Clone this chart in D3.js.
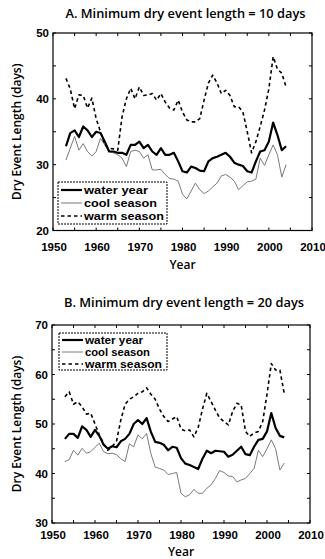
<!DOCTYPE html>
<html><head><meta charset="utf-8">
<script src="https://cdn.jsdelivr.net/npm/d3@7"></script>
<style>body{margin:0;background:#fff}svg{display:block}text{font-family:"Open Sans",sans-serif;fill:#000}text.leg{font-family:"Liberation Sans",Arial,sans-serif}</style>
</head><body><svg id="c" width="325" height="559"></svg>
<script>
const years = d3.range(1953, 2005);
const xTicks = [1950,1960,1970,1980,1990,2000,2010];
const seriesNames = ["water year","cool season","warm season"];

const waterA = [32.8,34.8,35.2,34.2,35.8,35.2,34.2,35.0,34.8,33.5,32.0,32.0,31.8,31.8,31.5,33.0,33.0,33.5,32.5,33.0,32.0,31.5,32.5,31.5,31.5,31.8,30.5,29.0,28.8,29.7,29.5,29.1,29.0,30.5,31.0,31.2,31.5,31.8,31.2,30.3,30.0,29.8,29.0,28.8,30.5,32.0,32.2,33.5,36.4,34.5,32.2,32.8];
const coolA = [30.7,32.5,34.3,32.2,33.2,32.0,31.3,32.0,34.0,33.0,32.0,31.8,31.5,31.0,29.7,32.0,32.2,32.0,31.0,31.5,29.2,29.2,29.3,28.5,27.9,27.8,27.5,25.5,24.8,26.0,27.2,26.2,25.6,26.0,26.6,27.2,28.3,28.5,28.1,27.5,26.2,26.8,27.4,27.5,27.8,31.0,29.9,31.5,33.0,31.5,28.1,30.0];
const warmA = [43.1,41.5,38.5,40.6,40.5,38.6,40.1,37.0,35.0,33.0,32.5,32.4,32.2,37.3,40.0,41.6,40.0,41.8,40.5,40.6,40.8,39.8,40.8,39.5,38.6,38.3,39.8,38.0,36.8,36.5,36.5,37.0,39.8,42.4,43.6,42.4,40.8,41.3,40.5,38.8,38.8,38.0,35.0,31.8,33.5,35.8,38.3,41.5,46.4,44.5,43.9,41.8];
const yTicksA = [20,30,40,50];

const waterB = [47.0,48.0,48.0,47.2,49.5,48.8,47.4,48.8,47.6,45.8,45.0,45.5,45.3,46.5,47.0,48.0,50.0,50.8,50.0,51.2,48.4,46.4,46.2,45.8,44.7,45.4,45.2,43.1,42.0,41.7,41.3,40.9,43.0,44.6,44.1,44.6,44.5,44.4,43.4,43.8,44.6,45.4,43.9,43.7,45.4,46.8,47.0,48.5,52.2,49.2,47.6,47.3];
const coolB = [42.4,42.8,44.7,43.7,45.1,44.1,44.4,45.3,46.1,44.4,44.0,44.1,43.8,43.0,42.4,46.0,45.4,47.8,47.0,48.1,44.0,41.3,41.0,40.7,39.8,40.0,40.2,36.0,35.3,35.7,36.8,36.0,36.0,37.0,37.7,39.0,40.6,40.2,39.5,39.4,38.3,38.7,39.0,40.0,41.0,44.7,43.4,45.0,46.8,45.0,40.7,42.1];
const warmB = [55.5,56.5,54.0,54.5,53.5,52.0,52.2,50.0,47.8,46.1,44.7,45.5,46.5,50.8,54.0,55.0,55.5,56.2,56.5,57.3,56.0,55.0,53.0,51.5,50.5,51.0,51.5,49.0,48.6,48.8,47.4,49.3,53.0,56.2,54.5,52.8,51.2,50.5,49.8,52.5,54.2,53.8,48.5,47.5,48.2,48.5,50.5,56.0,62.2,60.9,60.9,56.2];
const yTicksB = [30,40,50,60,70];

const svg = d3.select("#c");
const styles = [
  {stroke:"#000", width:2.2, dash:null},
  {stroke:"#7a7a7a", width:1, dash:null},
  {stroke:"#000", width:1.6, dash:"3.5,3"}
];

function panel(cfg){
  const {title, titleY, left, right, top, bottom, yDomain, yTicks, series, legend, xLabY, yearY} = cfg;
  const x = d3.scaleLinear().domain([1950,2010]).range([left,right]);
  const y = d3.scaleLinear().domain(yDomain).range([bottom,top]);
  const g = svg.append("g");
  g.append("text").attr("x",(left+right)/2+3).attr("y",titleY).attr("text-anchor","middle")
    .attr("font-size",12).attr("font-weight",600).attr("textLength",240).attr("lengthAdjust","spacingAndGlyphs").text(title);
  g.append("rect").attr("x",left).attr("y",top).attr("width",right-left).attr("height",bottom-top)
    .attr("fill","none").attr("stroke","#000").attr("stroke-width",1.2);
  const minorX = d3.range(1950,2011,5);
  const tl = 3;
  minorX.forEach(v=>{
    g.append("line").attr("x1",x(v)).attr("x2",x(v)).attr("y1",bottom).attr("y2",bottom-tl).attr("stroke","#000");
    g.append("line").attr("x1",x(v)).attr("x2",x(v)).attr("y1",top).attr("y2",top+tl).attr("stroke","#000");
  });
  const minorY = d3.range(yDomain[0], yDomain[1]+0.1, 5);
  minorY.forEach(v=>{
    g.append("line").attr("x1",left).attr("x2",left+tl).attr("y1",y(v)).attr("y2",y(v)).attr("stroke","#000");
    g.append("line").attr("x1",right).attr("x2",right-tl).attr("y1",y(v)).attr("y2",y(v)).attr("stroke","#000");
  });
  xTicks.forEach(v=>{
    g.append("text").attr("class","leg").attr("x",x(v)+1).attr("y",xLabY).attr("text-anchor","middle").attr("font-size",11.5).attr("font-weight","bold").text(v);
  });
  yTicks.forEach(v=>{
    g.append("text").attr("class","leg").attr("x",left-4).attr("y",y(v)+4).attr("text-anchor","end").attr("font-size",11.5).attr("font-weight","bold").text(v);
  });
  g.append("text").attr("x",(left+right)/2).attr("y",yearY).attr("text-anchor","middle").attr("font-size",12).attr("font-weight",600).text("Year");
  g.append("text").attr("transform",`translate(21,${(top+bottom)/2}) rotate(-90)`).attr("text-anchor","middle")
    .attr("font-size",12).attr("font-weight",600).text("Dry Event Length (days)");
  const line = d3.line().x((d,i)=>x(years[i])).y(d=>y(d)).curve(d3.curveLinear);
  [1,0,2].forEach(k=>{
    g.append("path").datum(series[k]).attr("d",line).attr("fill","none")
      .attr("stroke",styles[k].stroke).attr("stroke-width",styles[k].width)
      .attr("stroke-dasharray",styles[k].dash).attr("stroke-linejoin","round");
  });
  const L = legend;
  g.append("rect").attr("x",L.x).attr("y",L.y).attr("width",L.w).attr("height",L.h)
    .attr("fill","#fff").attr("stroke","#000").attr("stroke-width",1).attr("stroke-dasharray","2,1");
  seriesNames.forEach((n,k)=>{
    const yy = L.y + L.pad + k*L.step;
    g.append("line").attr("x1",L.x+3).attr("x2",L.x+24).attr("y1",yy).attr("y2",yy)
      .attr("stroke",styles[k].stroke).attr("stroke-width",styles[k].width).attr("stroke-dasharray",styles[k].dash);
    g.append("text").attr("class","leg").attr("x",L.x+26).attr("y",yy+4).attr("font-size",L.fs).attr("font-weight","bold")
      .attr("textLength",L.lens[k]).attr("lengthAdjust","spacingAndGlyphs").text(n);
  });
}

panel({title:"A. Minimum dry event length = 10 days", titleY:18, left:53, right:312, top:33, bottom:230.5,
  yDomain:[20,50], yTicks:yTicksA, series:[waterA,coolA,warmA],
  legend:{x:58,y:182,w:109,h:42,pad:8,step:13,fs:11,lens:[64,73,80]}, xLabY:251, yearY:269});
panel({title:"B. Minimum dry event length = 20 days", titleY:307, left:52, right:310, top:325, bottom:523,
  yDomain:[30,70], yTicks:yTicksB, series:[waterB,coolB,warmB],
  legend:{x:59,y:333,w:108,h:37,pad:7,step:12,fs:10,lens:[58,65,77]}, xLabY:539, yearY:556});
</script></body></html>
